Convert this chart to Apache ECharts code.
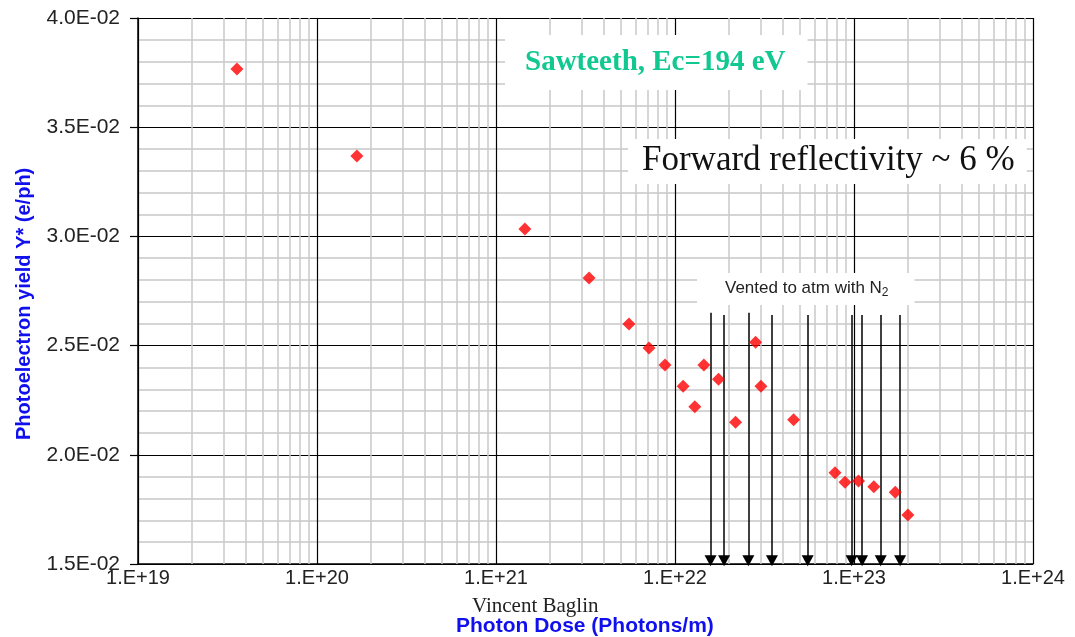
<!DOCTYPE html>
<html>
<head>
<meta charset="utf-8">
<script src="https://cdn.jsdelivr.net/npm/echarts@6/dist/echarts.min.js"></script>
<style>
  html, body { margin: 0; padding: 0; background: #fff; }
  #chart { width: 1075px; height: 637px; }
</style>
</head>
<body>
<div id="chart"></div>
<script>
// Photon dose (photons/m) for each yield measurement
const doses = [3.57e19, 1.67e20, 1.45e21, 3.31e21, 5.53e21, 7.16e21, 8.79e21, 1.11e22,
  1.29e22, 1.45e22, 1.75e22, 2.18e22, 2.82e22, 3.02e22, 4.60e22, 7.83e22, 8.91e22,
  1.06e23, 1.29e23, 1.70e23, 2.00e23];
// Photoelectron yield Y* (e/ph)
const yields = [0.03766, 0.03368, 0.03034, 0.0281, 0.02599, 0.02489, 0.02411, 0.02314,
  0.0222, 0.02411, 0.02346, 0.02149, 0.02515, 0.02314, 0.02161, 0.01918, 0.01874,
  0.0188, 0.01854, 0.01828, 0.01724];
// Doses at which the chamber was vented to atmosphere with N2
const ventDoses = [1.58e22, 1.88e22, 2.57e22, 3.48e22, 5.51e22, 9.70e22, 1.11e23, 1.41e23, 1.81e23];
const ventTops = [0.0265, 0.0264, 0.0265, 0.0264, 0.0264, 0.0264, 0.0264, 0.0264, 0.0264];
const ventTip = 0.01515;
// Axis ranges
const xDecades = [19, 20, 21, 22, 23, 24];
const yTicks = [0.015, 0.020, 0.025, 0.030, 0.035, 0.040];

const chart = echarts.init(document.getElementById('chart'), null, { renderer: 'canvas' });

// gray minor grid at 2..9 x 10^n within each decade
const minorX = [];
for (let i = 0; i < xDecades.length - 1; i++) {
  for (let k = 2; k <= 9; k++) minorX.push(k * Math.pow(10, xDecades[i]));
}

function fmtY(v) {
  const e = v.toExponential(1).toUpperCase();       // e.g. 4.0E-2
  const m = e.match(/^(.*)E([+-])(\d+)$/);
  return m[1] + 'E' + m[2] + m[3].padStart(2, '0');
}

const points = doses.map((d, i) => [d, yields[i]]);

const option = {
  backgroundColor: '#ffffff',
  animation: false,
  grid: { left: 138, right: 42, top: 18, bottom: 73, containLabel: false },
  xAxis: {
    type: 'log', logBase: 10,
    min: Math.pow(10, xDecades[0]), max: Math.pow(10, xDecades[xDecades.length - 1]),
    z: 3,
    axisLine: { show: true, onZero: false, lineStyle: { color: '#000', width: 1.5 } },
    axisTick: { show: false },
    axisLabel: {
      margin: 4, fontFamily: 'Liberation Sans, Arial, sans-serif', fontSize: 20, color: '#222',
      formatter: v => '1.E+' + Math.round(Math.log10(v))
    },
    splitLine: { show: true, lineStyle: { color: '#000', width: 1.2 } }
  },
  yAxis: {
    type: 'value', min: yTicks[0], max: yTicks[yTicks.length - 1], interval: 0.005,
    z: 3,
    axisLine: { show: true, onZero: false, lineStyle: { color: '#000', width: 1.5 } },
    axisTick: { show: true, inside: false, length: 8, lineStyle: { color: '#000', width: 1.2 } },
    axisLabel: {
      margin: 18, fontFamily: 'Liberation Sans, Arial, sans-serif', fontSize: 21, color: '#222',
      formatter: fmtY
    },
    splitLine: { show: true, lineStyle: { color: '#000', width: 1.2 } },
    minorTick: { show: false, splitNumber: 5 },
    minorSplitLine: { show: true, lineStyle: { color: '#c8c8c8', width: 1.5 } }
  },
  graphic: [
    {
      type: 'text', left: 505, top: 35, z: 10,
      style: {
        text: 'Sawteeth, Ec=194 eV', fill: '#10c890',
        font: 'bold 29px "Liberation Serif", "Times New Roman", serif',
        backgroundColor: '#fff', padding: [13, 22, 13, 20]
      }
    },
    {
      type: 'text', left: 628, top: 139, z: 10,
      style: {
        text: 'Forward reflectivity ~ 6 %', fill: '#111',
        font: '35px "Liberation Serif", "Times New Roman", serif',
        backgroundColor: '#fff', padding: [4, 12, 6, 14]
      }
    },
    {
      type: 'text', left: 697, top: 273, z: 10,
      style: {
        text: 'Vented to atm with N{s|2}',
        font: '17px "Liberation Sans", Arial, sans-serif', fill: '#222',
        backgroundColor: '#fff', padding: [5, 26, 6, 28],
        rich: {
          s: { fontSize: 12, fill: '#222', padding: [9, 0, 0, 0], fontFamily: 'Liberation Sans' }
        }
      }
    },
    {
      type: 'text', left: 472, top: 596, z: 10,
      style: {
        text: 'Vincent Baglin', fill: '#222',
        font: '21px "Liberation Serif", "Times New Roman", serif'
      }
    },
    {
      type: 'text', left: 456, top: 616, z: 10,
      style: {
        text: 'Photon Dose (Photons/m)', fill: '#1010ee',
        font: 'bold 21px "Liberation Sans", Arial, sans-serif'
      }
    },
    {
      type: 'text', x: 14, y: 440, rotation: Math.PI / 2, z: 10,
      style: {
        text: 'Photoelectron yield Y* (e/ph)', fill: '#1010ee',
        font: 'bold 20px "Liberation Sans", Arial, sans-serif'
      }
    }
  ],
  series: [
    {
      // minor vertical grid lines
      type: 'scatter', data: [], z: 1, silent: true,
      markLine: {
        silent: true, symbol: ['none', 'none'], animation: false,
        label: { show: false },
        lineStyle: { type: 'solid', color: '#c8c8c8', width: 1.5 },
        data: minorX.map(v => ({ xAxis: v }))
      }
    },
    {
      // vent arrows
      type: 'scatter', data: [], z: 4, silent: true,
      markLine: {
        silent: true, animation: false,
        symbol: ['none', 'triangle'], symbolSize: [12, 11],
        label: { show: false },
        lineStyle: { type: 'solid', color: '#000', width: 1.5 },
        data: ventDoses.map((d, i) => [
          { coord: [d, ventTops[i]] },
          { coord: [d, ventTip] }
        ])
      }
    },
    {
      type: 'scatter', name: 'Y*', z: 6,
      symbol: 'diamond', symbolSize: 13,
      itemStyle: { color: '#ff0000' },
      data: points
    }
  ]
};
chart.setOption(option);
</script>
</body>
</html>
